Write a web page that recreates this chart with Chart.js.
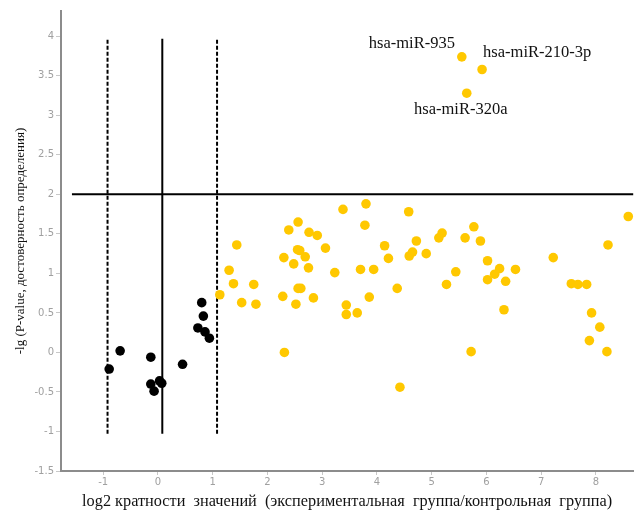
<!DOCTYPE html>
<html><head><meta charset="utf-8">
<script src="https://cdn.jsdelivr.net/npm/chart.js@4"></script>
<style>html,body{margin:0;padding:0;background:#fff}canvas{display:block}</style>
</head><body>
<canvas id="c" width="638" height="513"></canvas>
<script>
// Up-regulated miRNAs (yellow)
const upX = [1.13,1.44,1.30,1.38,1.75,1.53,1.79,2.56,2.39,2.55,2.59,2.30,2.69,2.48,2.28,2.52,2.56,2.61,2.31,2.76,2.91,3.06,2.75,2.84,3.23,3.38,3.80,3.78,3.44,3.44,3.64,3.70,3.94,3.86,4.14,4.21,4.58,4.37,4.42,4.72,4.59,4.65,4.90,5.13,5.19,5.27,5.44,5.61,5.77,5.89,5.72,6.02,6.24,6.15,6.02,6.35,6.53,6.32,7.22,7.55,7.67,7.83,7.92,8.07,7.88,8.20,8.22,8.59];
const upY = [0.73,1.36,1.04,0.87,0.86,0.63,0.61,1.65,1.55,1.30,1.29,1.20,1.21,1.12,0.71,0.61,0.81,0.81,0.00,1.52,1.48,1.32,1.07,0.69,1.01,1.81,1.88,1.61,0.60,0.48,0.50,1.05,1.05,0.70,1.35,1.19,1.78,0.81,-0.44,1.41,1.22,1.27,1.25,1.45,1.51,0.86,1.02,1.45,1.59,1.41,0.01,1.16,1.06,0.99,0.92,0.90,1.05,0.54,1.20,0.87,0.86,0.86,0.50,0.32,0.15,0.01,1.36,1.72];
// Not changed (black)
const nsX = [-0.89,-0.69,-0.13,-0.13,-0.07,0.03,0.07,0.45,0.80,0.83,0.73,0.86,0.94];
const nsY = [-0.21,0.02,-0.06,-0.40,-0.49,-0.36,-0.39,-0.15,0.63,0.46,0.31,0.26,0.18];
// Labelled significant miRNAs
const labeledNames = ['hsa-miR-935','hsa-miR-210-3p','hsa-miR-320a'];
const labeledX = [5.55,5.92,5.64];
const labeledY = [3.74,3.58,3.28];
// Ticks
const xTicks = [-1,0,1,2,3,4,5,6,7,8];
const yTicks = [-1.5,-1,-0.5,0,0.5,1,1.5,2,2.5,3,3.5,4];
// Reference lines
const thresholdY = 2;
const thresholdXRange = [-1.57, 8.68];
const centerLineX = 0.08;
const foldLinesX = [-0.92, 1.08];
const vLineRange = [-1.03, 3.97];

const xTitle = 'log2 кратности  значений  (экспериментальная  группа/контрольная  группа)';
const yTitle = '-lg (P-value, достоверность определения)';

const zip = (xs, ys) => xs.map((x, i) => ({x, y: ys[i]}));
const YELLOW = 'rgb(255,200,0)';
const pointStyle = {pointRadius: 4.8, pointHoverRadius: 4.8, pointBorderWidth: 0, borderWidth: 0, showLine: false, clip: false};

const labelOffsets = [
  {dx: -50, dy: -9, align: 'center'},
  {dx: 1, dy: -12, align: 'left'},
  {dx: -6, dy: 21, align: 'center'}
];

const labelPlugin = {
  id: 'pointLabels',
  afterDatasetsDraw(chart) {
    const meta = chart.getDatasetMeta(2);
    const ctx = chart.ctx;
    ctx.save();
    ctx.font = '16.5px "Liberation Serif"';
    ctx.fillStyle = '#111';
    ctx.textBaseline = 'alphabetic';
    meta.data.forEach((pt, i) => {
      const o = labelOffsets[i];
      ctx.textAlign = o.align;
      ctx.fillText(labeledNames[i], pt.x + o.dx, pt.y + o.dy);
    });
    ctx.restore();
  }
};

const vLine = (x, dash) => ({
  data: [{x, y: vLineRange[0]}, {x, y: vLineRange[1]}],
  showLine: true, borderColor: '#000', borderWidth: 2, borderDash: dash,
  pointRadius: 0, pointHoverRadius: 0, fill: false
});

new Chart(document.getElementById('c'), {
  type: 'scatter',
  data: {
    datasets: [
      Object.assign({data: zip(upX, upY), backgroundColor: YELLOW}, pointStyle),
      Object.assign({data: zip(nsX, nsY), backgroundColor: '#000'}, pointStyle),
      Object.assign({data: zip(labeledX, labeledY), backgroundColor: YELLOW}, pointStyle),
      {
        data: [{x: thresholdXRange[0], y: thresholdY}, {x: thresholdXRange[1], y: thresholdY}],
        showLine: true, borderColor: '#000', borderWidth: 2, pointRadius: 0, pointHoverRadius: 0, clip: false
      },
      vLine(centerLineX, []),
      vLine(foldLinesX[0], [4, 2]),
      vLine(foldLinesX[1], [4, 2])
    ]
  },
  options: {
    responsive: false,
    animation: false,
    devicePixelRatio: 1,
    layout: {padding: {top: 11, right: 1, left: 0, bottom: 0}},
    plugins: {legend: {display: false}, tooltip: {enabled: false}},
    scales: {
      x: {
        type: 'linear', min: -1.77, max: 8.68,
        afterBuildTicks: s => { s.ticks = xTicks.map(v => ({value: v})); },
        afterFit: s => { s.height = 42; },
        ticks: {color: '#a0a0a0', font: {family: '"DejaVu Sans"', size: 10}, padding: 1, maxRotation: 0, autoSkip: false,
                callback: v => String(v)},
        grid: {drawOnChartArea: false, drawTicks: true, tickLength: 4, color: '#c8c8c8'},
        border: {display: true, color: '#8c8c8c', width: 2},
        title: {display: true, text: xTitle, color: '#111', font: {family: '"Liberation Serif"', size: 16.3}, padding: {top: 0, bottom: 1}}
      },
      y: {
        type: 'linear', min: -1.5, max: 4.32,
        afterBuildTicks: s => { s.ticks = yTicks.map(v => ({value: v})); },
        afterFit: s => { s.width = 61; },
        ticks: {color: '#a0a0a0', font: {family: '"DejaVu Sans"', size: 10}, padding: 2, autoSkip: false,
                callback: v => String(v)},
        grid: {drawOnChartArea: false, drawTicks: true, tickLength: 5, color: '#c8c8c8'},
        border: {display: true, color: '#8c8c8c', width: 2},
        title: {display: true, text: yTitle, color: '#111', font: {family: '"Liberation Serif"', size: 13}, padding: {top: 13, bottom: 0}}
      }
    }
  },
  plugins: [labelPlugin]
});
</script>
</body></html>
